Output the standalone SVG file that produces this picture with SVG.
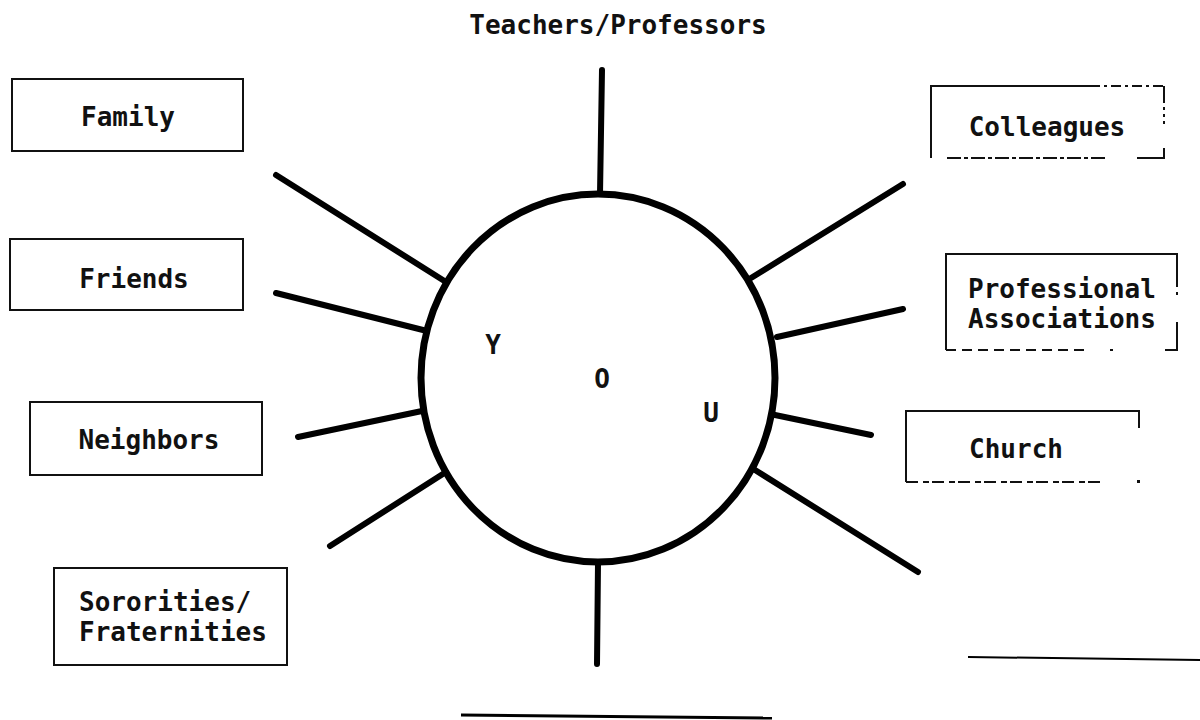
<svg xmlns="http://www.w3.org/2000/svg" width="1200" height="720" viewBox="0 0 1200 720">
<style>
  .t { font-family: "DejaVu Sans Mono", "Liberation Mono", monospace; font-size: 26px; font-weight: bold; fill: #111; }
  .box { fill: none; stroke: #111; stroke-width: 2; }
  .dsh { fill: none; stroke: #111; stroke-width: 2; }
  .spoke { stroke: #000; stroke-width: 6; stroke-linecap: round; fill: none; }
  .blank { stroke: #000; fill: none; }
</style>
<rect width="1200" height="720" fill="#fff"/>

<g id="connectors">
  <line class="spoke" x1="602" y1="70" x2="600" y2="194"/>
  <line class="spoke" x1="598" y1="563" x2="597" y2="664"/>
  <line class="spoke" x1="276" y1="175" x2="446" y2="282"/>
  <line class="spoke" x1="276" y1="293" x2="427" y2="331"/>
  <line class="spoke" x1="298" y1="437" x2="422" y2="411"/>
  <line class="spoke" x1="330" y1="546" x2="446" y2="472"/>
  <line class="spoke" x1="903" y1="184" x2="751" y2="278"/>
  <line class="spoke" x1="903" y1="309" x2="777" y2="337"/>
  <line class="spoke" x1="775" y1="415" x2="871" y2="435"/>
  <line class="spoke" x1="755" y1="470" x2="918" y2="572"/>
</g>

<g id="you">
  <ellipse cx="598" cy="378" rx="177" ry="184" fill="none" stroke="#000" stroke-width="7"/>
  <text class="t" x="493" y="354" text-anchor="middle">Y</text>
  <text class="t" x="602" y="388" text-anchor="middle">O</text>
  <text class="t" x="711" y="422" text-anchor="middle">U</text>
</g>

<g id="teachers">
  <text class="t" x="618" y="34" text-anchor="middle">Teachers/Professors</text>
</g>

<g id="family">
  <rect class="box" x="12" y="79" width="231" height="72"/>
  <text class="t" x="128" y="126" text-anchor="middle">Family</text>
</g>

<g id="friends">
  <rect class="box" x="10" y="239" width="233" height="71"/>
  <text class="t" x="134" y="288" text-anchor="middle">Friends</text>
</g>

<g id="neighbors">
  <rect class="box" x="30" y="402" width="232" height="73"/>
  <text class="t" x="149" y="449" text-anchor="middle">Neighbors</text>
</g>

<g id="sororities">
  <rect class="box" x="54" y="568" width="233" height="97"/>
  <text class="t" x="79" y="611">Sororities/</text>
  <text class="t" x="79" y="641">Fraternities</text>
</g>

<g id="colleagues">
  <path class="dsh" d="M931 158 V86 H1090"/>
  <path class="dsh" d="M1090 86 H1165" stroke-dasharray="10 4 3 4"/>
  <path class="dsh" d="M1164 86 V100"/>
  <path class="dsh" d="M1164 100 V126" stroke-dasharray="3 4"/>
  <path class="dsh" d="M1164 148 V158 H1137"/>
  <path class="dsh" d="M947 158 H1107" stroke-dasharray="14 3 4 3"/>
  <text class="t" x="1047" y="136" text-anchor="middle">Colleagues</text>
</g>

<g id="professional">
  <path class="dsh" d="M946 350 V254 H1177 V284"/>
  <path class="dsh" d="M1177 284 V300" stroke-dasharray="3 5"/>
  <path class="dsh" d="M1177 322 V350 H1165"/>
  <path class="dsh" d="M946 350 H1085" stroke-dasharray="10 6"/>
  <path class="dsh" d="M1110 350 H1113"/>
  <text class="t" x="968" y="298">Professional</text>
  <text class="t" x="968" y="328">Associations</text>
</g>

<g id="church">
  <path class="dsh" d="M906 482 V411 H1139 V428"/>
  <path class="dsh" d="M906 482 H1100" stroke-dasharray="12 5 6 3"/>
  <rect x="1137" y="480" width="3" height="3" fill="#111"/>
  <text class="t" x="1016" y="458" text-anchor="middle">Church</text>
</g>

<g id="blanks">
  <line class="blank" x1="968" y1="657" x2="1200" y2="660" stroke-width="2"/>
  <line class="blank" x1="461" y1="715" x2="772" y2="718" stroke-width="3"/>
</g>
</svg>
